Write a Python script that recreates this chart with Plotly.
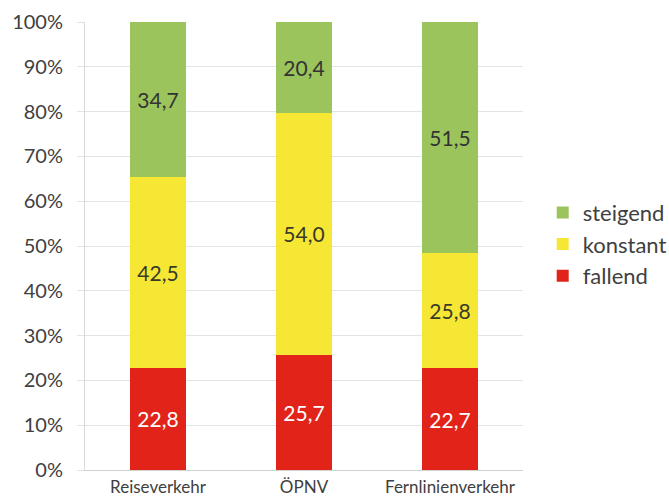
import plotly.graph_objects as go

categories = ["Reiseverkehr", "ÖPNV", "Fernlinienverkehr"]
fallend = [22.8, 25.7, 22.7]
konstant = [42.5, 54.0, 25.8]
steigend = [34.7, 20.4, 51.5]
y_ticks = [0, 10, 20, 30, 40, 50, 60, 70, 80, 90, 100]
y_tick_labels = [f"{v}%" for v in y_ticks]

series = [
    ("fallend", fallend, "#E2231A", "white"),
    ("konstant", konstant, "#F7E735", "#3A3A2A"),
    ("steigend", steigend, "#9BC45C", "#333333"),
]

FONT = "Lato, Open Sans, sans-serif"

fig = go.Figure()
for name, vals, color, txtcolor in series:
    fig.add_trace(go.Bar(
        x=categories, y=vals, name=name, legendgroup=name,
        marker=dict(color=color, line=dict(width=0)),
        texttemplate="%{y:.1f}", textposition="inside",
        insidetextanchor="middle",
        textfont=dict(family=FONT, size=21, color=txtcolor),
        constraintext="none",
    ))

fig.update_layout(
    width=669, height=501,
    barmode="stack", bargap=0.61,
    separators=",.",
    paper_bgcolor="white", plot_bgcolor="white",
    margin=dict(l=85, r=146, t=22, b=31, autoexpand=False),
    font=dict(family=FONT, color="#404040"),
    showlegend=True,
    legend=dict(
        x=1.045, y=0.504, xanchor="left", yanchor="middle",
        traceorder="reversed", tracegroupgap=3,
        font=dict(size=22, color="#404040"),
        itemwidth=30,
    ),
    uniformtext=dict(mode=False),
)
fig.update_yaxes(
    range=[0, 100], tickvals=y_ticks, ticktext=y_tick_labels,
    showgrid=True, gridcolor="#E4E4E4", gridwidth=1,
    zeroline=False, showline=True, linecolor="#D9D9D9",
    ticks="outside", ticklen=7, tickcolor="#E4E4E4",
    ticklabelstandoff=10, automargin=False,
    tickfont=dict(size=20, color="#404040"),
)
fig.update_xaxes(
    showline=True, linecolor="#D0D0D0", linewidth=1,
    ticklabelstandoff=2, automargin=False,
    tickfont=dict(size=17, color="#404040"),
    ticks="", showgrid=False,
)

fig.write_html("out.html")
